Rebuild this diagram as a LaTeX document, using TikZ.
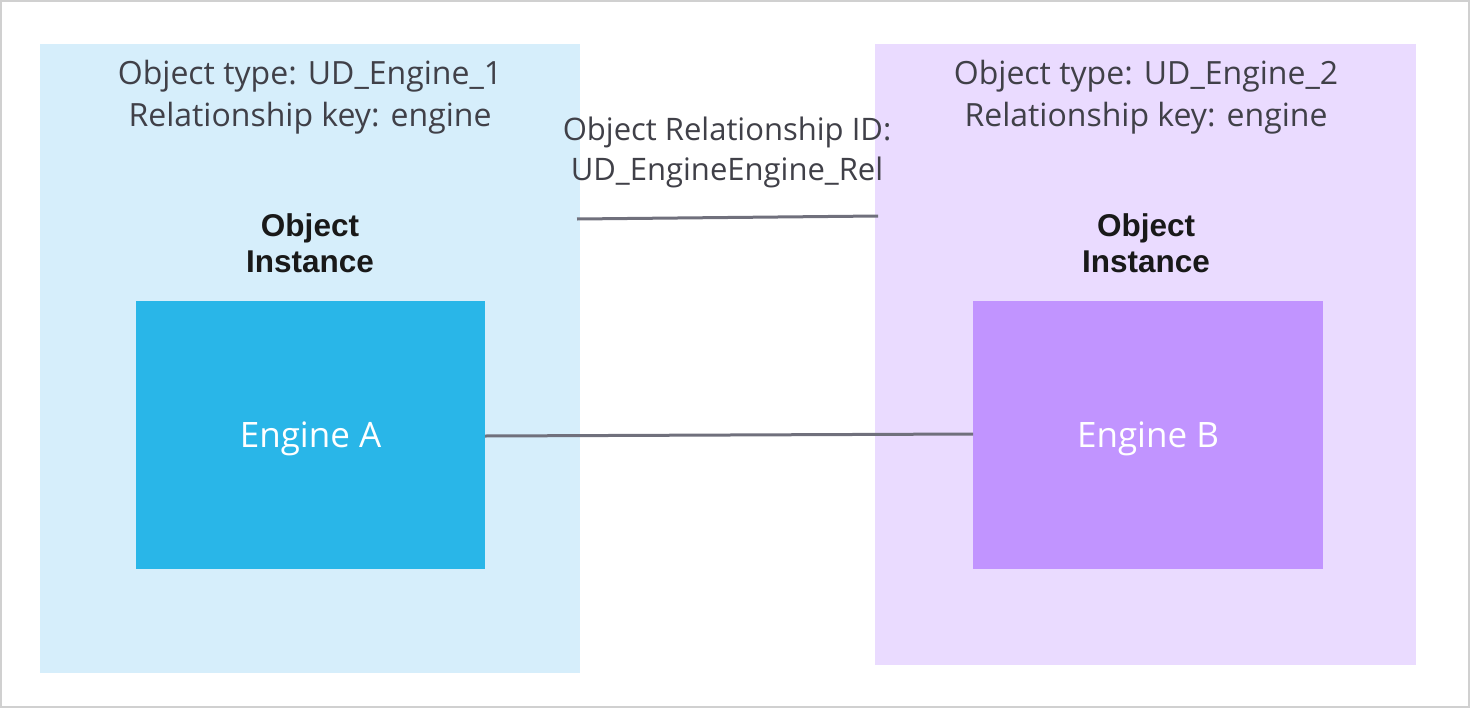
\documentclass[tikz,border=0pt]{standalone}
\usepackage{fontspec}
\setmainfont{Open Sans}
\newfontfamily\boldsans{Liberation Sans}
\definecolor{framegray}{HTML}{D0D0D0}
\definecolor{leftpanel}{HTML}{D6EEFB}
\definecolor{rightpanel}{HTML}{EADBFF}
\definecolor{engA}{HTML}{29B6E8}
\definecolor{engB}{HTML}{C194FF}
\definecolor{linkgray}{HTML}{70707C}
\definecolor{txtgray}{HTML}{404048}
\tikzset{
  panel/.style={draw=none, anchor=north west, inner sep=0pt, outer sep=0pt},
  enginebox/.style={draw=none, anchor=north west, inner sep=0pt, outer sep=0pt},
  infotext/.style={text=txtgray, font=\fontsize{32}{42}\selectfont, align=center},
  midtext/.style={text=txtgray, font=\fontsize{31}{40}\selectfont, align=center},
  insttext/.style={text=black!90, font=\boldsans\bfseries\fontsize{31.5}{36}\selectfont, align=center},
  engtext/.style={text=white, font=\fontsize{35}{40}\selectfont},
  link/.style={draw=linkgray, line width=3pt}
}
\begin{document}
\begin{tikzpicture}[x=1pt,y=-1pt]
\useasboundingbox (0,0) rectangle (1471,709);
\draw[framegray, line width=2pt] (1,1) rectangle (1469,707);
\node[panel, fill=leftpanel, minimum width=540pt, minimum height=629pt] (lp) at (40,44) {};
\node[panel, fill=rightpanel, minimum width=541pt, minimum height=621pt] (rp) at (875,44) {};
\node[enginebox, fill=engA, minimum width=349pt, minimum height=268pt] (ea) at (136,301) {};
\node[enginebox, fill=engB, minimum width=350pt, minimum height=268pt] (eb) at (973,301) {};
\node[engtext] at ([yshift=-4pt]ea.center) {Engine A};
\node[engtext] at ([yshift=-4pt]eb.center) {Engine B};
\node[infotext] (lt) at (310,97) {Object type: UD\_Engine\_1\\Relationship key: engine};
\node[infotext] (rt) at (1146,97) {Object type: UD\_Engine\_2\\Relationship key: engine};
\node[midtext] (mt) at (727,152) {Object Relationship ID:\\UD\_EngineEngine\_Rel};
\node[insttext] (li) at (310,243) {Object\\Instance};
\node[insttext] (ri) at (1146,243) {Object\\Instance};
\coordinate (t1) at (577,219);
\coordinate (t2) at (878,216);
\draw[link] (t1) -- (t2);
\draw[link] (ea.east) ++(0,1) coordinate (b1) (eb.west) ++(0,-1) coordinate (b2);
\draw[link] (b1) -- (b2);
\end{tikzpicture}
\end{document}
